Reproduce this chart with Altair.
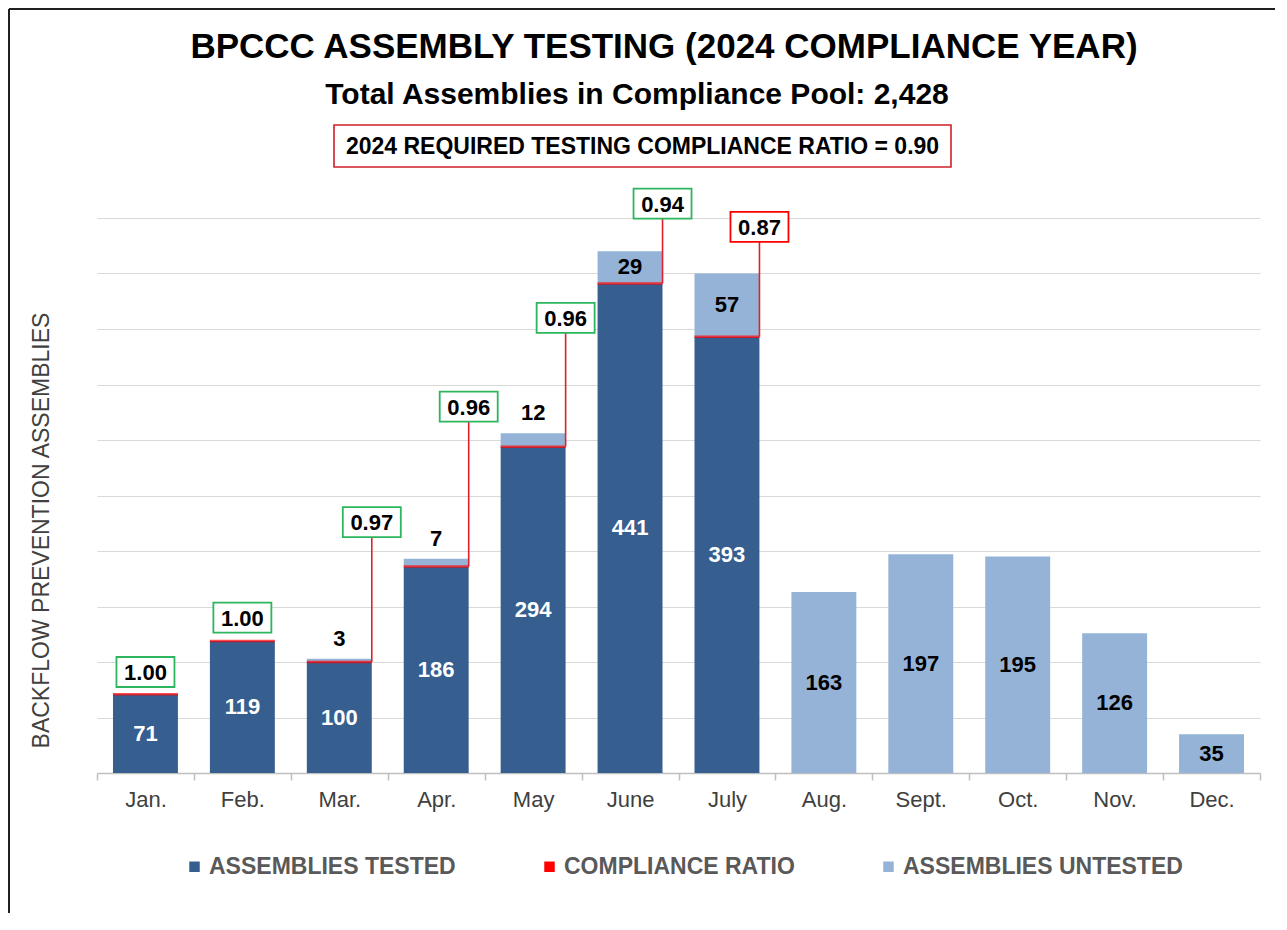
import altair as alt
import pandas as pd

# ---------------- data ----------------
months = ["Jan.", "Feb.", "Mar.", "Apr.", "May", "June", "July",
          "Aug.", "Sept.", "Oct.", "Nov.", "Dec."]
tested = [71, 119, 100, 186, 294, 441, 393, 0, 0, 0, 0, 0]
untested = [0, 0, 3, 7, 12, 29, 57, 163, 197, 195, 126, 35]
ratio = [1.00, 1.00, 0.97, 0.96, 0.96, 0.94, 0.87,
         None, None, None, None, None]
# height (in assemblies) at which each ratio call-out box sits
ratio_label_at = [91, 140, 226, 330, 410, 513, 492,
                  None, None, None, None, None]
required_ratio = 0.90
total_pool = 2428

TESTED = "ASSEMBLIES TESTED"
RATIO = "COMPLIANCE RATIO"
UNTESTED = "ASSEMBLIES UNTESTED"

title_text = "BPCCC ASSEMBLY TESTING (2024 COMPLIANCE YEAR)"
subtitle_text = f"Total Assemblies in Compliance Pool: {total_pool:,}"
req_text = f"2024 REQUIRED TESTING COMPLIANCE RATIO = {required_ratio:.2f}"
y_title = "BACKFLOW PREVENTION ASSEMBLIES"

# ---------------- tables ----------------
wide = pd.DataFrame({
    "month": months, "tested": tested, "untested": untested,
    "ratio": ratio, "label_at": ratio_label_at,
})
long_rows = []
for m, t, u in zip(months, tested, untested):
    long_rows.append({"month": m, "series": TESTED, "value": t, "ord": 0})
    long_rows.append({"month": m, "series": UNTESTED, "value": u, "ord": 1})
long = pd.DataFrame(long_rows)

# ---------------- styling ----------------
FONT = "Liberation Sans"
DARK = "#365F8F"
LIGHT = "#95B3D7"
RED = "#FF0000"
GREEN = "#2DB55D"
W, H = 1163, 555
HALF_BAR = 32.5

xscale = alt.Scale(paddingInner=0, paddingOuter=0)
yscale = alt.Scale(domain=[0, 500], nice=False, zero=True)

x_enc = alt.X("month:N", sort=months, scale=xscale, title=None,
              axis=alt.Axis(labelAngle=0, labelFont=FONT, labelFontSize=22,
                            labelColor="#404040", domainColor="#BFBFBF",
                            domainWidth=1.5, tickColor="#BFBFBF", tickWidth=1.5,
                            tickSize=7, tickBand="extent", labelPadding=9,
                            grid=False))

y_axis = alt.Axis(values=list(range(0, 501, 50)), labels=False,
                  ticks=False, domain=False, grid=True,
                  gridColor="#D9D9D9", gridWidth=1.2,
                  titleFont=FONT, titleFontSize=23,
                  titleFontWeight="normal", titleColor="#404040",
                  titleX=-56, titleY=312, titleAngle=270,
                  titleAlign="center", titleBaseline="middle")


def y_enc(field, **kw):
    return alt.Y(field, scale=yscale, axis=y_axis, title=y_title, **kw)


base = alt.Chart(wide)

bars = alt.Chart(long).mark_bar(width=alt.RelativeBandSize(0.67)).encode(
    x=x_enc,
    y=y_enc("value:Q", stack="zero"),
    color=alt.Color("series:N",
                    scale=alt.Scale(domain=[TESTED, RATIO, UNTESTED],
                                    range=[DARK, RED, LIGHT]),
                    legend=alt.Legend(orient="none", legendX=86, legendY=637,
                                      direction="horizontal", title=None,
                                      symbolType="square", symbolSize=110,
                                      symbolStrokeWidth=0, labelFont=FONT,
                                      labelFontSize=23, labelFontWeight="bold",
                                      labelColor="#595959", columnPadding=82,
                                      labelOffset=3, labelLimit=0, padding=0)),
    order=alt.Order("ord:Q"),
)

tested_lbl = base.transform_filter("datum.tested > 0").transform_calculate(
    mid="datum.tested / 2"
).mark_text(font=FONT, fontSize=22, fontWeight="bold", color="white",
            baseline="middle").encode(
    x=x_enc, y=y_enc("mid:Q"), text=alt.Text("tested:Q"))

untested_big = base.transform_filter("datum.untested >= 20").transform_calculate(
    mid="datum.tested + datum.untested / 2"
).mark_text(font=FONT, fontSize=22, fontWeight="bold", color="black",
            baseline="middle").encode(
    x=x_enc, y=y_enc("mid:Q"), text=alt.Text("untested:Q"))

untested_small = base.transform_filter(
    "datum.untested > 0 && datum.untested < 20").transform_calculate(
    top="datum.tested + datum.untested"
).mark_text(font=FONT, fontSize=22, fontWeight="bold", color="black",
            baseline="middle", dy=-20).encode(
    x=x_enc, y=y_enc("top:Q"), text=alt.Text("untested:Q"))

has_ratio = "isValid(datum.ratio)"

ratio_tick = base.transform_filter(has_ratio).mark_tick(
    color=RED, thickness=2.5, size=65).encode(
    x=x_enc, y=y_enc("tested:Q"))

leader = base.transform_filter(has_ratio + " && datum.untested > 0").mark_rule(
    color="#E0202A", strokeWidth=1.6, xOffset=HALF_BAR, y2Offset=15).encode(
    x=x_enc, y=y_enc("tested:Q"), y2="label_at:Q")

box_shape = "M-1,-0.517H1V0.517H-1Z"


def callout(filter_expr, xoff):
    src = base.transform_filter(filter_expr).transform_calculate(
        boxcol=f"datum.ratio >= {required_ratio} ? '{GREEN}' : '{RED}'")
    box = src.mark_point(shape=box_shape, size=58 * 58, filled=True,
                         fill="white", strokeWidth=1.8, opacity=1,
                         xOffset=xoff).encode(
        x=x_enc, y=y_enc("label_at:Q"),
        stroke=alt.Stroke("boxcol:N", scale=None))
    txt = src.mark_text(font=FONT, fontSize=22, fontWeight="bold",
                        color="black", baseline="middle", dy=1,
                        xOffset=xoff).encode(
        x=x_enc, y=y_enc("label_at:Q"),
        text=alt.Text("ratio:Q", format=".2f"))
    return box + txt


callout_center = callout(has_ratio + " && datum.untested == 0", 0)
callout_right = callout(has_ratio + " && datum.untested > 0", HALF_BAR)

one = pd.DataFrame({"t": [0]})
title_l = alt.Chart(one).mark_text(
    font=FONT, fontSize=35, fontWeight="bold", color="black",
    baseline="middle", align="center").encode(
    x=alt.value(567), y=alt.value(-171), text=alt.value(title_text))
subtitle_l = alt.Chart(one).mark_text(
    font=FONT, fontSize=30, fontWeight="bold", color="black",
    baseline="middle", align="center").encode(
    x=alt.value(540), y=alt.value(-123), text=alt.value(subtitle_text))
req_box = alt.Chart(one).mark_rect(
    fill="white", stroke="#D0202A", strokeWidth=1.6).encode(
    x=alt.value(237), x2=alt.value(854), y=alt.value(-93), y2=alt.value(-51))
req_l = alt.Chart(one).mark_text(
    font=FONT, fontSize=23, fontWeight="bold", color="black",
    baseline="middle", align="center").encode(
    x=alt.value(545.5), y=alt.value(-71), text=alt.value(req_text))

frame_left = alt.Chart(one).mark_rule(color="#202020", strokeWidth=2).encode(
    x=alt.value(-88), y=alt.value(-209), y2=alt.value(700))
frame_top = alt.Chart(one).mark_rule(color="#202020", strokeWidth=2).encode(
    x=alt.value(-88), x2=alt.value(1180), y=alt.value(-209))

chart = alt.layer(
    bars, ratio_tick, tested_lbl, untested_big, untested_small, leader,
    callout_center, callout_right,
    title_l, subtitle_l, req_box, req_l, frame_left, frame_top,
).resolve_scale(x="shared", y="shared").properties(
    width=W, height=H,
    padding={"left": 89, "top": 210, "right": 15, "bottom": 140},
    autosize=alt.AutoSizeParams(type="none"),
    background="white",
).configure_view(stroke=None)

chart.save("out.html", embed_options={"renderer": "svg", "actions": False})
